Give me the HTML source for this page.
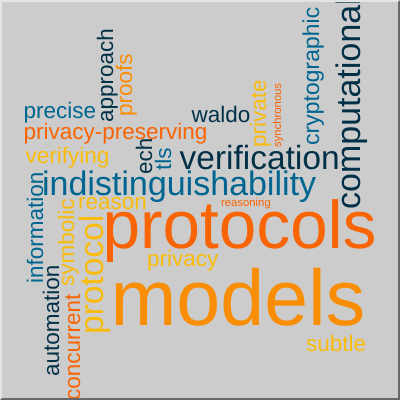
<!DOCTYPE html>
<html>
<head>
<meta charset="utf-8">
<style>
html,body{margin:0;padding:0;background:#ccc}
#cloud{position:relative;box-sizing:border-box;width:400px;height:400px;background:#ccc;border:2px solid;border-color:#e4e4e4 #686868 #686868 #e4e4e4;overflow:hidden}
svg{position:absolute;left:-2px;top:-2px}
text{font-family:"Liberation Sans",Arial,sans-serif;text-rendering:geometricPrecision}
.dark{fill:#023047}.blue{fill:#006691}.yellow{fill:#f9bc0c}.amber{fill:#f98e04}.orange{fill:#f96404}
</style>
</head>
<body>
<div id="cloud">
<svg width="400" height="400" viewBox="0 0 400 400">
<text class="amber" x="110.5" y="325" font-size="79">models</text>
<text class="orange" x="102.5" y="248" font-size="67.5">protocols</text>
<text class="blue" x="42" y="195" font-size="34">indistinguishability</text>
<text class="dark" x="179.5" y="169" font-size="33.5">verification</text>
<text class="dark" transform="translate(360 209) rotate(-90)" font-size="34">computational</text>
<text class="yellow" transform="translate(103 334) rotate(-90)" font-size="33.5">protocol</text>
<text class="blue" transform="translate(319 145) rotate(-90)" font-size="23">cryptographic</text>
<text class="yellow" transform="translate(266 147) rotate(-90)" font-size="22.5">private</text>
<text class="orange" transform="translate(281 147) rotate(-90)" font-size="11.3">synchronous</text>
<text class="dark" x="191.5" y="122" font-size="22.5">waldo</text>
<text class="blue" x="23.5" y="118" font-size="22.5">precise</text>
<text class="orange" x="23.5" y="139" font-size="22.5">privacy-preserving</text>
<text class="yellow" x="25.5" y="163" font-size="22.5">verifying</text>
<text class="dark" transform="translate(113 122) rotate(-90)" font-size="22.5">approach</text>
<text class="amber" transform="translate(132 116) rotate(-90)" font-size="22.5">proofs</text>
<text class="dark" transform="translate(152 174) rotate(-90)" font-size="22.5">ech</text>
<text class="blue" transform="translate(171 170) rotate(-90)" font-size="22.5">tls</text>
<text class="blue" transform="translate(43 283) rotate(-90)" font-size="22.5">information</text>
<text class="dark" transform="translate(59 376) rotate(-90)" font-size="22.5">automation</text>
<text class="yellow" transform="translate(74 286) rotate(-90)" font-size="22.5">symbolic</text>
<text class="orange" transform="translate(80 400) rotate(-90)" font-size="22.5">concurrent</text>
<text class="yellow" x="78" y="209" font-size="22.5">reason</text>
<text class="yellow" x="147" y="266" font-size="22.5">privacy</text>
<text class="yellow" x="306" y="351" font-size="22.5">subtle</text>
<text class="orange" x="221" y="206" font-size="11.3">reasoning</text>
</svg>
</div>
</body>
</html>
